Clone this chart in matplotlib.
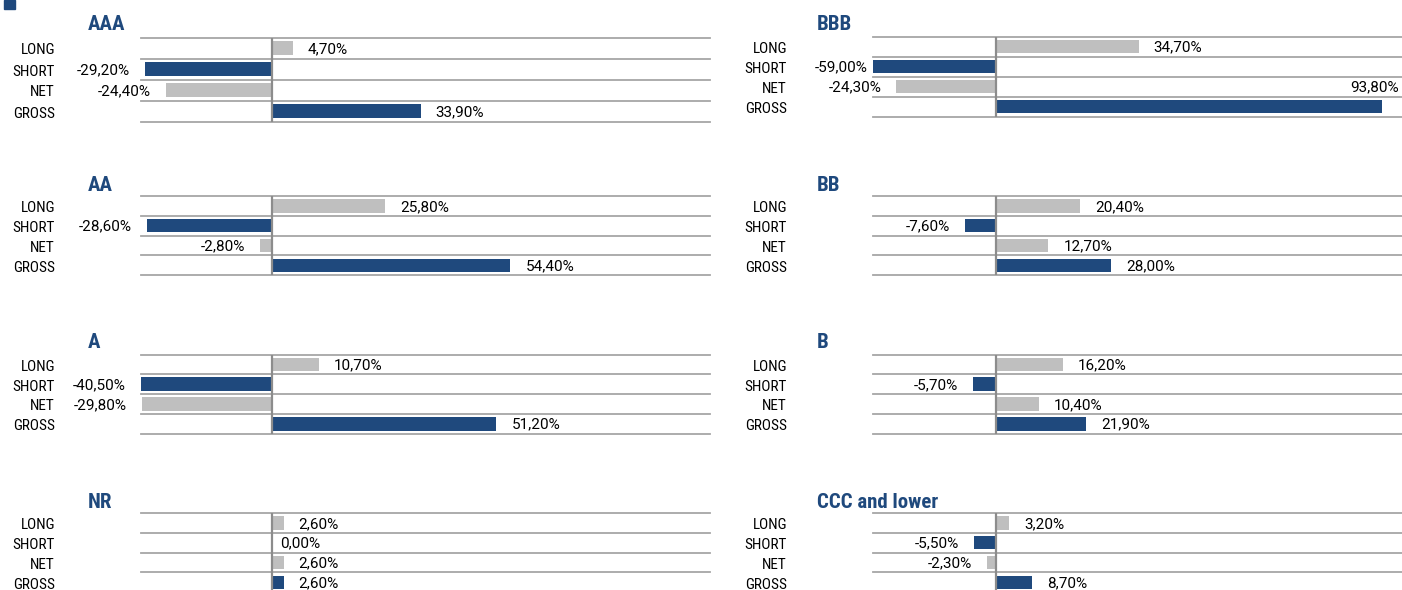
import matplotlib.pyplot as plt
from matplotlib import font_manager
from matplotlib.patches import Rectangle

# data (percent)
rows = ["LONG", "SHORT", "NET", "GROSS"]
ratings_left = ["AAA", "AA", "A", "NR"]
ratings_right = ["BBB", "BB", "B", "CCC and lower"]
values_left = [
    [4.7, -29.2, -24.4, 33.9],
    [25.8, -28.6, -2.8, 54.4],
    [10.7, -40.5, -29.8, 51.2],
    [2.6, 0.0, 2.6, 2.6],
]
values_right = [
    [34.7, -59.0, -24.3, 93.8],
    [20.4, -7.6, 12.7, 28.0],
    [16.2, -5.7, 10.4, 21.9],
    [3.2, -5.5, -2.3, 8.7],
]

NAVY = "#1f497d"
GREY = "#bfbfbf"
LINE = "#a6a6a6"
row_colors = [GREY, NAVY, GREY, NAVY]
XMIN, XMAX = -30, 100

# a narrow sans close to the original, first one that is installed
names = {f.name for f in font_manager.fontManager.ttflist}
FONT = "DejaVu Sans"
for cand in ["Roboto Condensed", "Liberation Sans Narrow", "Archivo Narrow",
             "PT Sans Narrow", "Fira Sans Condensed", "Barlow Condensed"]:
    if cand in names:
        FONT = cand
        break
VAL_FONT = "Roboto" if "Roboto" in names else FONT
plt.rcParams["font.family"] = [FONT, "DejaVu Sans"]

W, H = 1402, 590
fig = plt.figure(figsize=(W / 100, H / 100), dpi=100)


def px_axes(x0, x1, top, bottom):
    return fig.add_axes([x0 / W, 1 - bottom / H, (x1 - x0) / W, (bottom - top) / H])


def fmt(v):
    return f"{v:.2f}%".replace(".", ",")


def draw_panel(x0, x1, top, step, title, vals, label_x, title_x, title_y):
    bottom = top + 4 * step
    ax = px_axes(x0, x1, top, bottom)
    ax.set_xlim(XMIN, XMAX)
    ax.set_ylim(4, 0)
    ax.axis("off")
    px_per_unit = (x1 - x0) / (XMAX - XMIN)
    vkw = dict(va="center", fontsize=11, zorder=3, family=[VAL_FONT, "DejaVu Sans"])
    for i, v in enumerate(vals):
        ax.barh(i + 0.5, v, height=0.68, color=row_colors[i], zorder=2)
        end = max(v, XMIN)
        if v > 85:
            ax.text(XMAX - 8 / px_per_unit, i - 0.45, fmt(v), ha="right", **vkw)
        elif v < 0:
            gap = 5 if v < XMIN - 20 else 15
            ax.text(end - gap / px_per_unit, i + 0.55, fmt(v), ha="right", **vkw)
        else:
            gap = 8 if v == 0 else 15
            ax.text(end + gap / px_per_unit, i + 0.55, fmt(v), ha="left", **vkw)
        fig.text(label_x / W, 1 - (top + (i + 0.5) * step + 2.5) / H, rows[i], ha="right",
                 va="center", fontsize=11)
    for k in range(5):
        ax.axhline(k, color=LINE, lw=1.3, zorder=1, clip_on=False)
    ax.axvline(0, color="#8c8c8c", lw=1.6, zorder=4)
    fig.text(title_x / W, 1 - title_y / H, title, ha="left", va="center",
             fontsize=15, fontweight="bold", color=NAVY)


left_tops = [37.5, 196, 354.5, 513]
left_steps = [21, 19.8, 19.8, 19.8]
right_tops = [36.5, 196, 354.5, 513]
right_steps = [20, 19.8, 19.8, 19.8]
title_ys = [24, 185, 343, 502]

for k in range(4):
    draw_panel(141, 710, left_tops[k], left_steps[k], ratings_left[k], values_left[k],
               55, 88, title_ys[k])
    draw_panel(873, 1407, right_tops[k], right_steps[k], ratings_right[k], values_right[k],
               787, 817, title_ys[k])

fig.patches.append(Rectangle((4 / W, 1 - 9 / H), 11 / W, 9 / H, transform=fig.transFigure,
                             color=NAVY, zorder=5))

fig.savefig("out.png", dpi=100)
